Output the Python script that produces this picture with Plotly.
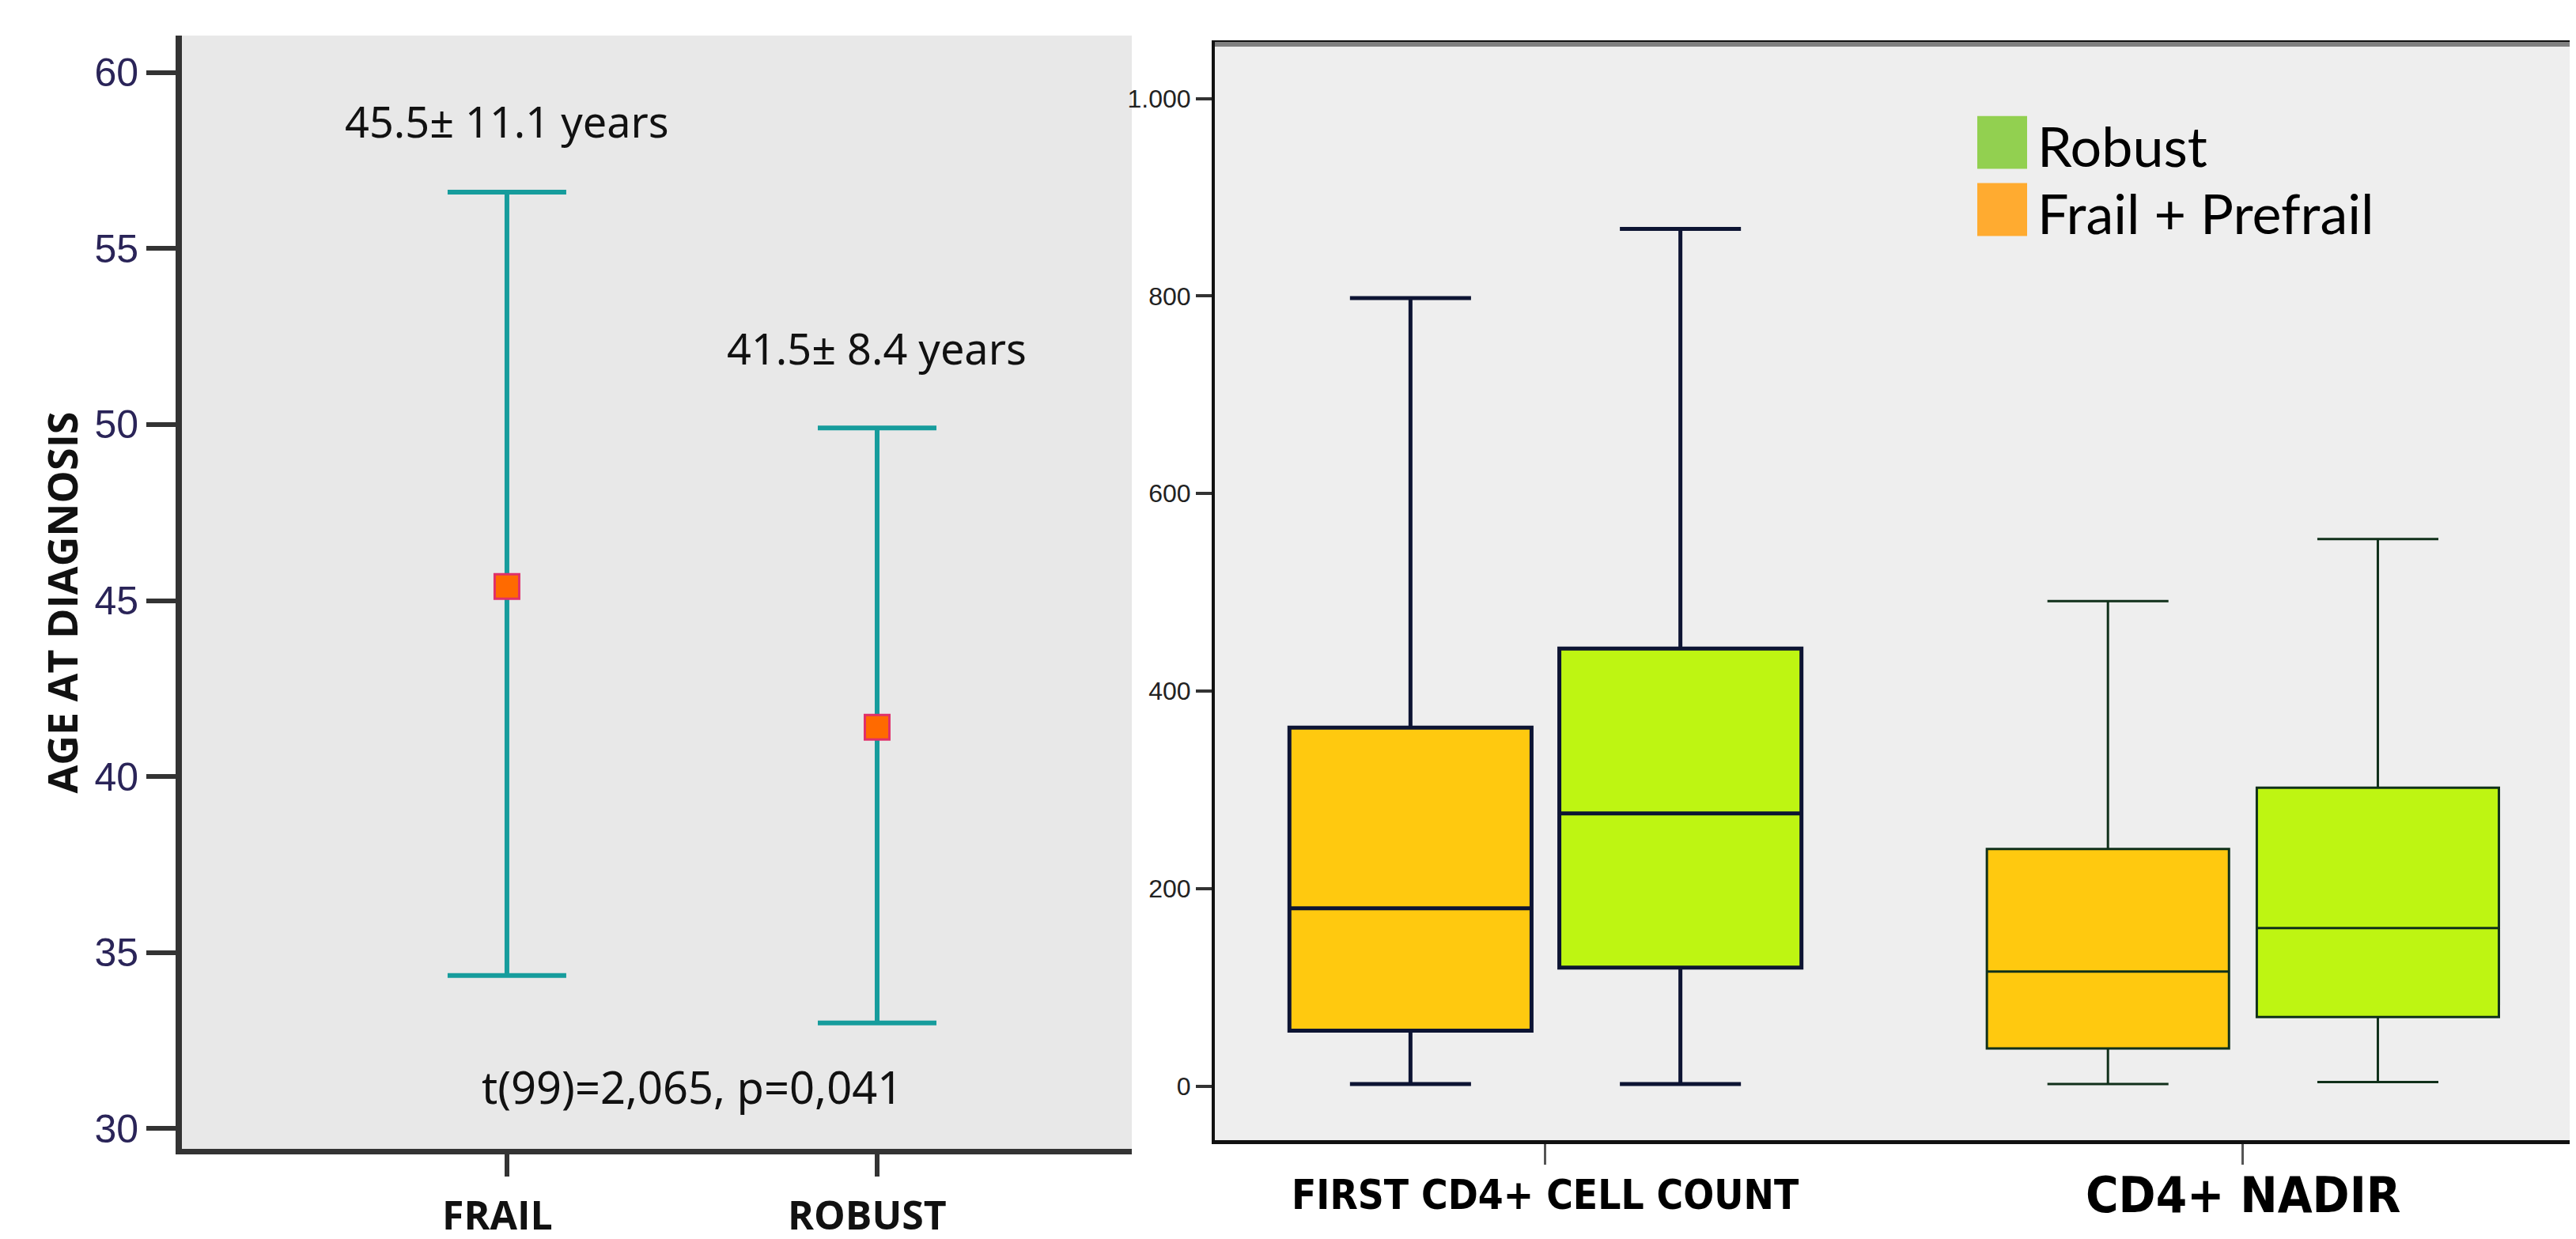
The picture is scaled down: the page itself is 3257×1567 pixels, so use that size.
import plotly.graph_objects as go

W, H = 3257, 1567

# ---------------- Left panel data ----------------
groups = ["FRAIL", "ROBUST"]
age_mean = [45.4, 41.4]
age_upper = [56.6, 49.9]
age_lower = [34.35, 33.0]
age_labels = ["45.5± 11.1 years", "41.5± 8.4 years"]
label_y = [58.63, 52.17]
stat_text = "t(99)=2,065, p=0,041"
left_yticks = [30, 35, 40, 45, 50, 55, 60]

# ---------------- Right panel data ----------------
cd4_categories = ["FIRST CD4+ CELL COUNT", "CD4+ NADIR"]
frail_q1 = [56, 38]
frail_median = [180, 116]
frail_q3 = [363, 240]
frail_low = [2, 2]
frail_high = [798, 491]
robust_q1 = [120, 70]
robust_median = [276, 160]
robust_q3 = [443, 302]
robust_low = [2, 4]
robust_high = [868, 554]
right_tickvals = [0, 200, 400, 600, 800, 1000]
right_ticktext = ["0", "200", "400", "600", "800", "1.000"]
legend_names = ["Robust", "Frail + Prefrail"]


def px_x(p):
    return p / W


def px_y(p):
    return 1 - p / H


fig = go.Figure()

x_left = [i + 1 for i in range(len(groups))]
fig.add_trace(go.Scatter(
    x=x_left, y=age_mean, mode="markers",
    marker=dict(symbol="square", size=31, color="#ff6a00",
                line=dict(color="#e0306a", width=3)),
    error_y=dict(type="data", symmetric=False,
                 array=[u - m for u, m in zip(age_upper, age_mean)],
                 arrayminus=[m - l for m, l in zip(age_mean, age_lower)],
                 color="#169c9c", thickness=6, width=75),
    xaxis="x", yaxis="y", showlegend=False, hoverinfo="skip"))

box_styles = {
    0: dict(line="#0d1433", width=5),
    1: dict(line="#10301a", width=3),
}
for i, cat in enumerate(cd4_categories):
    st = box_styles[i]
    fig.add_trace(go.Box(
        x=[cat], q1=[frail_q1[i]], median=[frail_median[i]], q3=[frail_q3[i]],
        lowerfence=[frail_low[i]], upperfence=[frail_high[i]],
        fillcolor="#ffc90f", line=dict(color=st["line"], width=st["width"]),
        whiskerwidth=0.5, boxpoints=False, offsetgroup="frail",
        name="Frail + Prefrail", showlegend=False, xaxis="x2", yaxis="y2"))
    fig.add_trace(go.Box(
        x=[cat], q1=[robust_q1[i]], median=[robust_median[i]], q3=[robust_q3[i]],
        lowerfence=[robust_low[i]], upperfence=[robust_high[i]],
        fillcolor="#bef512", line=dict(color=st["line"], width=st["width"]),
        whiskerwidth=0.5, boxpoints=False, offsetgroup="robust",
        name="Robust", showlegend=False, xaxis="x2", yaxis="y2"))

annotations = []
# value labels in left panel
for xv, txt, yv in zip(x_left, age_labels, label_y):
    annotations.append(dict(x=xv, y=yv, xref="x", yref="y", text=txt, showarrow=False,
                            font=dict(family="Noto Sans", size=54, color="#111111")))
annotations.append(dict(x=1.5, y=31.21, xref="x", yref="y", text=stat_text, showarrow=False,
                        font=dict(family="Noto Sans", size=56, color="#111111")))
# left x labels at the bottom edge
for xv, g in zip(x_left, groups):
    annotations.append(dict(x=xv, y=0, xref="x", yref="paper", text="<b>%s</b>" % g,
                            showarrow=False, yanchor="bottom", xshift=-12,
                            font=dict(family="Open Sans", size=50, color="#111111")))
# left y-axis title
annotations.append(dict(x=px_x(70), y=px_y(756), xref="paper", yref="paper",
                        xanchor="center", yanchor="middle",
                        text="<b>AGE AT DIAGNOSIS</b>", textangle=-90, showarrow=False,
                        font=dict(family="Open Sans", size=52, color="#111111")))
# right category labels
cat_sizes = [51, 63]
for cat, sz in zip(cd4_categories, cat_sizes):
    annotations.append(dict(x=cat, y=px_y(1506), xref="x2", yref="paper", text="<b>%s</b>" % cat,
                            showarrow=False, yanchor="middle",
                            font=dict(family="DejaVu Sans Condensed, Open Sans, sans-serif",
                                      size=sz, color="#000000")))
# legend
legend_colors = ["#92d050", "#ffab30"]
legend_rows = [(139, 206), (224, 291)]
shapes = []
for name, col, (t, b) in zip(legend_names, legend_colors, legend_rows):
    shapes.append(dict(type="rect", xref="paper", yref="paper",
                       x0=px_x(2492), x1=px_x(2555), y0=px_y(b), y1=px_y(t),
                       fillcolor=col, line=dict(width=0), layer="above"))
    annotations.append(dict(x=px_x(2566), y=px_y((t + b) / 2 + 4), xref="paper", yref="paper",
                            text=name, showarrow=False, xanchor="left", yanchor="middle",
                            font=dict(family="Lato", size=70, color="#000000")))

# right panel background
shapes.insert(0, dict(type="rect", xref="x2 domain", yref="y2 domain", x0=0, x1=1, y0=0, y1=1,
                      fillcolor="#eeeeee", line=dict(width=0), layer="below"))
# grey top frame of right panel
shapes.append(dict(type="line", xref="x2 domain", yref="y2 domain", x0=0, x1=1, y0=1, y1=1,
                   line=dict(color="#808080", width=6), layer="above"))

fig.update_layout(
    width=W, height=H, margin=dict(l=0, r=0, t=0, b=0),
    paper_bgcolor="white", plot_bgcolor="#e8e8e8",
    boxmode="group", boxgap=0.226, boxgroupgap=0.103,
    showlegend=False,
    xaxis=dict(domain=[px_x(222), px_x(1423)], range=[0.122, 2.688],
               tickvals=x_left, showticklabels=False, ticks="outside", ticklen=28,
               tickwidth=6, tickcolor="#333333", showline=True, linecolor="#333333",
               linewidth=7, showgrid=False, zeroline=False),
    yaxis=dict(domain=[px_y(1448), px_y(37)], range=[29.42, 61.05],
               tickvals=left_yticks, ticks="outside", ticklen=37, tickwidth=6,
               tickcolor="#333333", showline=True, linecolor="#333333", linewidth=8,
               showgrid=False, zeroline=False,
               tickfont=dict(family="Liberation Sans", size=50, color="#2a2458")),
    xaxis2=dict(domain=[px_x(1528), px_x(3252)], type="category",
                categoryorder="array", categoryarray=cd4_categories,
                range=[-0.474, 1.481], showticklabels=False, ticks="outside", ticklen=26,
                tickwidth=3, tickcolor="#555555", showline=True, linecolor="#111111",
                linewidth=5, mirror=True, showgrid=False, zeroline=False, anchor="y2"),
    yaxis2=dict(domain=[px_y(1437), px_y(48)], range=[-55, 1055],
                tickvals=right_tickvals, ticktext=right_ticktext, ticks="outside",
                ticklen=20, tickwidth=4, tickcolor="#333333", showline=True,
                linecolor="#111111", linewidth=4, mirror=True, showgrid=False,
                zeroline=False, anchor="x2",
                tickfont=dict(family="Liberation Sans", size=32, color="#222222")),
    annotations=annotations,
    shapes=shapes,
)

fig.write_html("out.html")
